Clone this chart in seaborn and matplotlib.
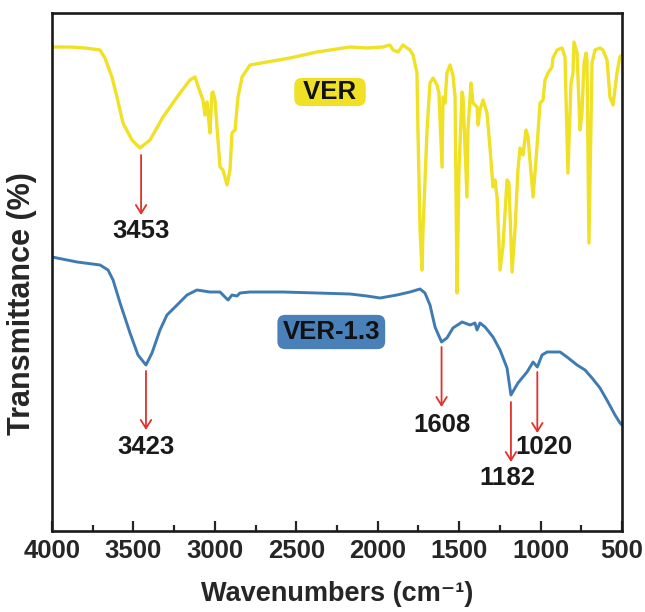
import pandas as pd
import matplotlib.pyplot as plt
import seaborn as sns
from matplotlib.ticker import MultipleLocator

# FTIR spectra (transmittance in arbitrary units)
ver_wn = [4000, 3889, 3797, 3705, 3675, 3632, 3601, 3564, 3509, 3460, 3398, 3318,
          3232, 3153, 3122, 3091, 3073, 3061, 3048, 3042, 3030, 3018, 3011, 2999,
          2981, 2968, 2950, 2925, 2907, 2895, 2876, 2858, 2833, 2784, 2680, 2539,
          2373, 2170, 2066, 1968, 1925, 1906, 1875, 1845, 1802, 1783, 1759, 1753,
          1740, 1728, 1722, 1697, 1679, 1660, 1636, 1624, 1605, 1599, 1587, 1575,
          1556, 1538, 1525, 1519, 1513, 1501, 1482, 1476, 1452, 1446, 1427, 1415,
          1390, 1384, 1372, 1353, 1329, 1311, 1292, 1280, 1267, 1249, 1231, 1206,
          1194, 1175, 1157, 1139, 1126, 1108, 1089, 1077, 1046, 1022, 1003, 985,
          973, 954, 930, 924, 899, 868, 850, 832, 813, 801, 795, 776, 758, 746,
          733, 721, 715, 703, 684, 666, 635, 617, 592, 574, 555, 531, 513, 500]
ver_t = [484, 484, 483, 481, 473, 454, 434, 408, 391, 383, 391, 414,
         434, 451, 454, 439, 431, 416, 429, 418, 398, 438, 439, 431,
         391, 364, 361, 346, 361, 398, 401, 434, 454, 466, 469, 473,
         479, 484, 483, 484, 486, 481, 479, 486, 481, 476, 458, 401,
         301, 261, 301, 401, 448, 453, 446, 438, 364, 434, 428, 458,
         466, 456, 434, 334, 238, 361, 439, 434, 334, 401, 448, 428,
         424, 406, 421, 431, 418, 384, 344, 351, 334, 261, 284, 351,
         348, 259, 301, 361, 383, 376, 401, 394, 334, 384, 428, 431,
         451, 458, 464, 473, 481, 483, 474, 358, 448, 458, 489, 478, 401, 418,
         468, 478, 471, 288, 468, 481, 483, 481, 471, 434, 426, 458, 474, 476]

ver13_wn = [4000, 3846, 3705, 3656, 3625, 3582, 3521, 3472, 3423, 3386, 3337, 3294,
            3232, 3171, 3110, 3030, 2968, 2938, 2919, 2895, 2864, 2846, 2784, 2582,
            2373, 2170, 2066, 1986, 1882, 1802, 1740, 1710, 1679, 1648, 1608, 1575,
            1538, 1482, 1433, 1403, 1390, 1372, 1341, 1292, 1249, 1206, 1182, 1139,
            1083, 1046, 1020, 991, 960, 880, 838, 776, 727, 684, 635, 586, 543, 512, 500]
ver13_t = [274, 269, 266, 261, 251, 228, 198, 176, 166, 178, 201, 216,
           226, 236, 241, 239, 239, 234, 231, 236, 235, 238, 239, 239,
           238, 237, 235, 233, 236, 239, 242, 238, 226, 204, 189, 193,
           203, 209, 206, 208, 201, 208, 204, 194, 181, 163, 136, 148,
           159, 169, 164, 176, 179, 179, 174, 166, 161, 153, 143, 129, 116, 108, 106]

ver_peaks = [3453]
ver13_peaks = [3423, 1608, 1182, 1020]

df_ver = pd.DataFrame({"wn": ver_wn, "t": ver_t})
df_ver13 = pd.DataFrame({"wn": ver13_wn, "t": ver13_t})

sns.set_style("ticks")
plt.rcParams["font.family"] = ["Liberation Sans", "DejaVu Sans"]
plt.rcParams["font.weight"] = "bold"

yellow = "#f0e126"
blue = "#3e7bb3"
red = "#e2302b"

fig = plt.figure(figsize=(6.45, 6.12), dpi=100)
ax = fig.add_axes([52 / 645, 81 / 612, 570 / 645, 518 / 612])

sns.lineplot(data=df_ver, x="wn", y="t", color=yellow, linewidth=2.4, ax=ax)
sns.lineplot(data=df_ver13, x="wn", y="t", color=blue, linewidth=2.1, ax=ax)

ax.set_xlim(4000, 500)
ax.set_ylim(0, 518)

# arrows: (peak, arrow top, arrow end, label y, label x shift)
arrow_layout = [
    (ver_peaks[0], 376, 316, 300, 0),
    (ver13_peaks[0], 160, 101, 84, 0),
    (ver13_peaks[1], 184, 124, 106, 0),
    (ver13_peaks[2], 129, 69, 53, 20),
    (ver13_peaks[3], 159, 98, 84, -40),
]
for wn, top, end, ly, dx in arrow_layout:
    ax.annotate("", xy=(wn, end), xytext=(wn, top),
                arrowprops=dict(arrowstyle="->,head_length=0.4,head_width=0.25",
                                color=red, lw=1.3, mutation_scale=15,
                                shrinkA=0, shrinkB=0))
    ax.text(wn + dx, ly, str(wn), ha="center", va="center",
            fontsize=18.5, fontweight="bold", color="#1a1a1a")

ax.text(2293, 439, " VER ", ha="center", va="center", fontsize=18.5,
        fontweight="bold", color="#111111",
        bbox=dict(boxstyle="round,pad=0.08,rounding_size=0.3", fc=yellow, ec="none"))
ax.text(2285, 199, "VER-1.3", ha="center", va="center", fontsize=18.5,
        fontweight="bold", color="#111111",
        bbox=dict(boxstyle="round,pad=0.2,rounding_size=0.3", fc="#4a80b8", ec="none"))

ax.xaxis.set_major_locator(MultipleLocator(500))
ax.xaxis.set_minor_locator(MultipleLocator(250))
ax.tick_params(axis="x", which="major", direction="in", length=7, width=1.6,
               labelsize=18.5, pad=6)
ax.tick_params(axis="x", which="minor", direction="in", length=4, width=1.6)
ax.set_yticks([])
for lab in ax.get_xticklabels():
    lab.set_fontweight("bold")

for s in ax.spines.values():
    s.set_linewidth(1.9)
    s.set_color("#1a1a1a")

ax.set_xlabel("Wavenumbers (cm\u207b\u00b9)", fontsize=19.5, fontweight="bold")
ax.set_ylabel("Transmittance (%)", fontsize=22, fontweight="bold")
ax.xaxis.set_label_coords(0.5, -0.097)
ax.yaxis.set_label_coords(-0.026, 0.44)

fig.savefig("out.png", dpi=100)
